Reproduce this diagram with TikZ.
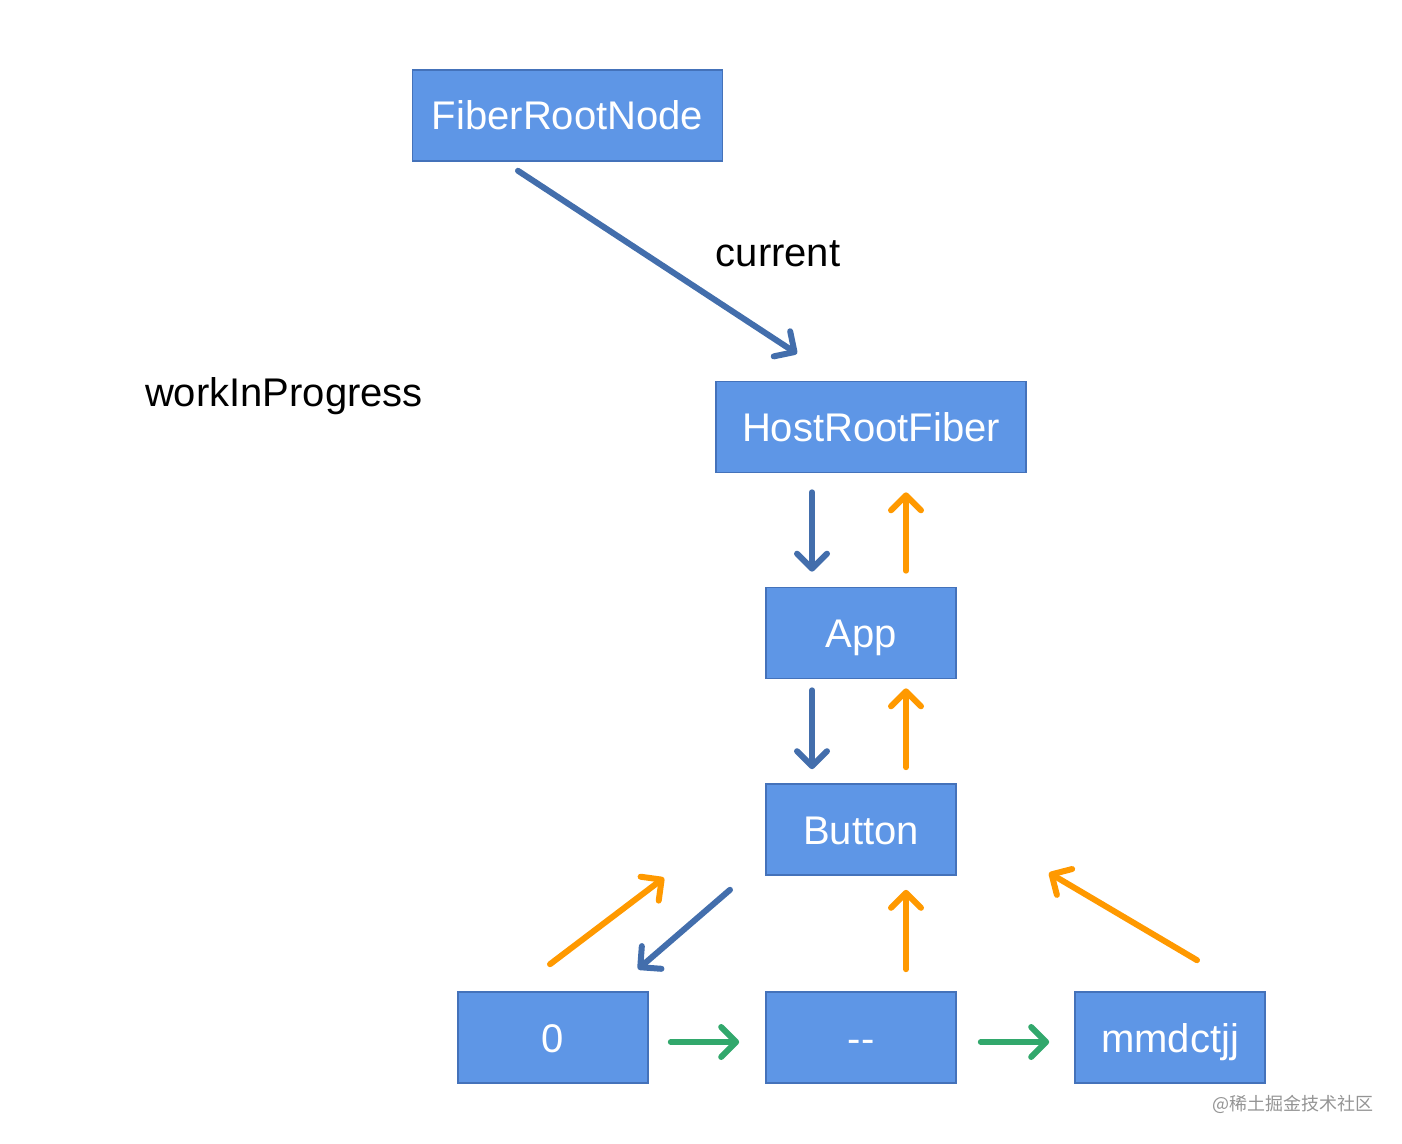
\documentclass[tikz,border=0pt]{standalone}
\usepackage{fontspec}
\setmainfont{Liberation Sans}
\newfontfamily\cjk{Noto Sans CJK SC}
\usetikzlibrary{arrows.meta,calc}

\definecolor{fiberfill}{RGB}{94,150,230}
\definecolor{fiberline}{RGB}{68,114,186}
\definecolor{childblue}{RGB}{67,110,172}
\definecolor{returnorange}{RGB}{255,153,0}
\definecolor{siblinggreen}{RGB}{50,168,108}

\begin{document}
\begin{tikzpicture}[
            x=0.5pt,y=-0.5pt,
            fiber/.style={draw=fiberline,fill=fiberfill,line width=0.8pt,minimum height=45.5pt,
              text=white,font=\fontsize{20}{24}\selectfont,inner sep=0pt,
              text height=18pt,text depth=3.5pt},
            wide/.style={fiber,minimum width=155pt},
            narrow/.style={fiber,minimum width=95pt},
            lab/.style={font=\fontsize{20}{24}\selectfont,text height=18pt,text depth=3.5pt},
            link/.style={line width=3pt,line cap=round,
              -{Straight Barb[length=7.5pt,width=15pt,round]}},
            child/.style={link,childblue},
            ret/.style={link,returnorange},
            sib/.style={link,siblinggreen}
          ]
          \useasboundingbox (0,0) rectangle (1402,1144);

          %fibers
          \node[wide] (root) at (567.5,115.5) {FiberRootNode};
          \node[wide] (host) at (871,427) {HostRootFiber};
          \node[narrow] (app) at (861,633) {App};
          \node[narrow] (btn) at (861,829.5) {Button};
          \node[narrow] (zero) at (553,1037.5) {0};
          \node[narrow] (dash) at (861,1037.5) {-{}-};
          \node[narrow] (mm) at (1170,1037.5) {mmdctjj};

          %labels
          \node[lab] (cur) at (778,252) {current};
          \node[lab] (wip) at (284,392) {workInProgress};
          \node[text=black!42,font=\cjk\fontsize{9}{11}\selectfont] (mark) at (1293,1104) {@稀土掘金技术社区};

          %links
          \draw[child] ($(root.south)+(-49.5,9)$) -- ($(host.north)+(-74,-27)$);
          \draw[child] ($(host.south)+(-59,19)$) -- ($(app.north)+(-49,-15)$);
          \draw[ret] ($(app.north)+(45,-16)$) -- ($(host.south)+(35,19)$);
          \draw[child] ($(app.south)+(-49,11)$) -- ($(btn.north)+(-49,-14)$);
          \draw[ret] ($(btn.north)+(45,-16)$) -- ($(app.south)+(45,9)$);
          \draw[child] ($(btn.south)+(-131,14)$) -- ($(zero.north)+(85,-22)$);
          \draw[ret] ($(zero.north)+(-3,-27)$) -- ($(btn.south)+(-197,2)$);
          \draw[ret] ($(dash.north)+(45,-22)$) -- ($(btn.south)+(45,14)$);
          \draw[ret] ($(mm.north)+(27,-31)$) -- ($(btn.south)+(188,-3)$);
          \draw[sib] ($(zero.east)+(22,4.5)$) -- ($(dash.west)+(-26,4.5)$);
          \draw[sib] ($(dash.east)+(24,4.5)$) -- ($(mm.west)+(-25,4.5)$);
      \end{tikzpicture}
\end{document}
